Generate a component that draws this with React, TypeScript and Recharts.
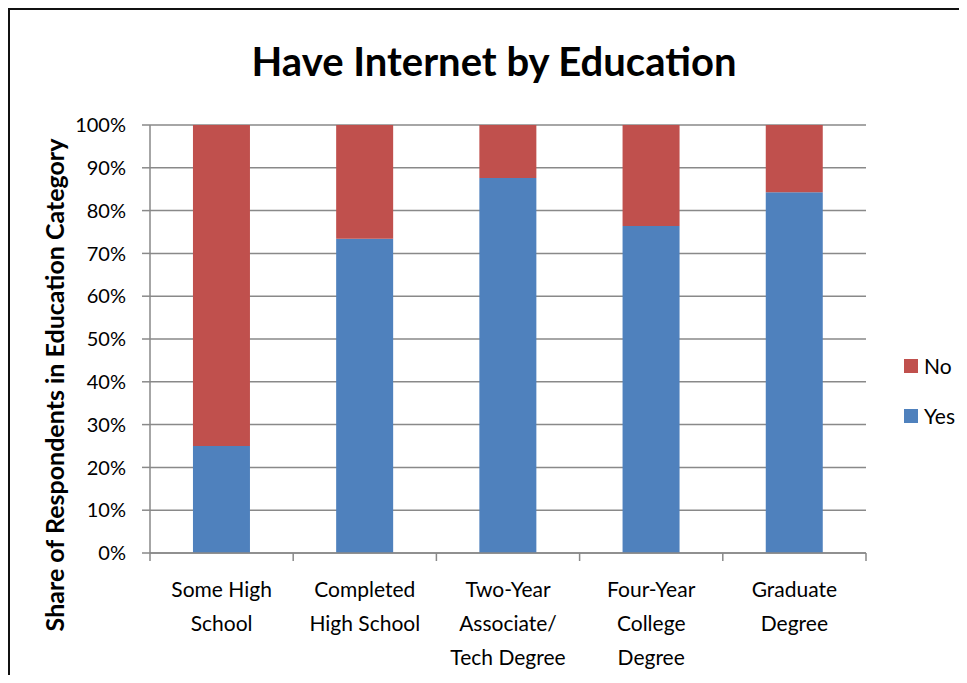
import React from 'react';
import { BarChart, Bar, XAxis, YAxis, CartesianGrid } from 'recharts';

// category labels, split into the lines used under the x axis
const categories = ['Some High School', 'Completed High School', 'Two-Year Associate/ Tech Degree', 'Four-Year College Degree', 'Graduate Degree'];
const categoryLines = [
  ['Some High', 'School'],
  ['Completed', 'High School'],
  ['Two-Year', 'Associate/', 'Tech Degree'],
  ['Four-Year', 'College', 'Degree'],
  ['Graduate', 'Degree'],
];

// share of respondents (%)
const yesValues = [25.0, 73.4, 87.6, 76.4, 84.3];
const noValues = [75.0, 26.6, 12.4, 23.6, 15.7];

const yTicks = [0, 10, 20, 30, 40, 50, 60, 70, 80, 90, 100];

const data = categories.map((name, i) => ({ name, idx: i, Yes: yesValues[i], No: noValues[i] }));

const FONT = 'Lato, "Open Sans", sans-serif';
const GRID = '#898989';
const RED = '#C0504D';
const BLUE = '#4F81BD';

const legendItems = [
  { label: 'No', color: RED },
  { label: 'Yes', color: BLUE },
];

const CategoryTick = (props: any) => {
  const { x, y, payload, index } = props;
  const half = payload && payload.offset ? payload.offset : 71.6;
  const lines = categoryLines[index] || [String(payload.value)];
  return (
    <g>
      <line x1={x - half} x2={x - half} y1={y} y2={y + 8} stroke={GRID} strokeWidth={1.5} />
      {index === categories.length - 1 && (
        <line x1={x + half} x2={x + half} y1={y} y2={y + 8} stroke={GRID} strokeWidth={1.5} />
      )}
      {lines.map((ln, i) => (
        <text key={i} x={x} y={y + 35 + i * 34} textAnchor="middle" dominantBaseline="central"
          fontFamily={FONT} fontSize={21} fill="#000">
          {ln}
        </text>
      ))}
    </g>
  );
};

export default function App() {
  return (
    <div style={{ position: 'relative', width: 951, height: 667, background: '#fff', overflow: 'hidden' }}>
      <div style={{ position: 'absolute', left: 0, top: 0, width: 951, height: 667, borderTop: '2px solid #111', borderLeft: '2px solid #111', boxSizing: 'border-box' }} />
      <div style={{ position: 'absolute', left: 186, top: 33, width: 600, textAlign: 'center', fontFamily: FONT, fontWeight: 700, fontSize: 40, lineHeight: '40px', color: '#000' }}>
        Have Internet by Education
      </div>
      <div style={{ position: 'absolute', left: 46 - 300, top: 377 - 14, width: 600, height: 28, lineHeight: '28px', textAlign: 'center', transform: 'rotate(-90deg)', fontFamily: FONT, fontWeight: 700, fontSize: 25, color: '#000', whiteSpace: 'nowrap' }}>
        Share of Respondents in Education Category
      </div>
      <BarChart width={951} height={667} data={data} barCategoryGap="30%"
        margin={{ top: 117, right: 93, left: 62, bottom: 10 }}>
        <CartesianGrid vertical={false} stroke={GRID} strokeWidth={1.5} />
        <XAxis dataKey="name" height={112} interval={0} tickSize={0} tickMargin={0}
          axisLine={{ stroke: GRID, strokeWidth: 1.5 }} tickLine={false} tick={<CategoryTick />} />
        <YAxis width={80} domain={[0, 100]} ticks={yTicks} interval={0} tickSize={8} tickMargin={16}
          tickFormatter={(v: number) => `${v}%`} axisLine={{ stroke: GRID, strokeWidth: 1.5 }}
          tickLine={{ stroke: GRID, strokeWidth: 1.5 }}
          tick={{ fontFamily: FONT, fontSize: 20, fill: '#000' }} />
        <Bar dataKey="Yes" stackId="a" fill={BLUE} isAnimationActive={false} />
        <Bar dataKey="No" stackId="a" fill={RED} isAnimationActive={false} />
      </BarChart>
      {legendItems.map((it, i) => (
        <div key={it.label} style={{ position: 'absolute', left: 896, top: 351 + i * 50, display: 'flex', alignItems: 'center', fontFamily: FONT, fontSize: 21, lineHeight: '14px' }}>
          <span style={{ display: 'inline-block', width: 14, height: 14, background: it.color, marginRight: 6 }} />
          <span>{it.label}</span>
        </div>
      ))}
    </div>
  );
}
